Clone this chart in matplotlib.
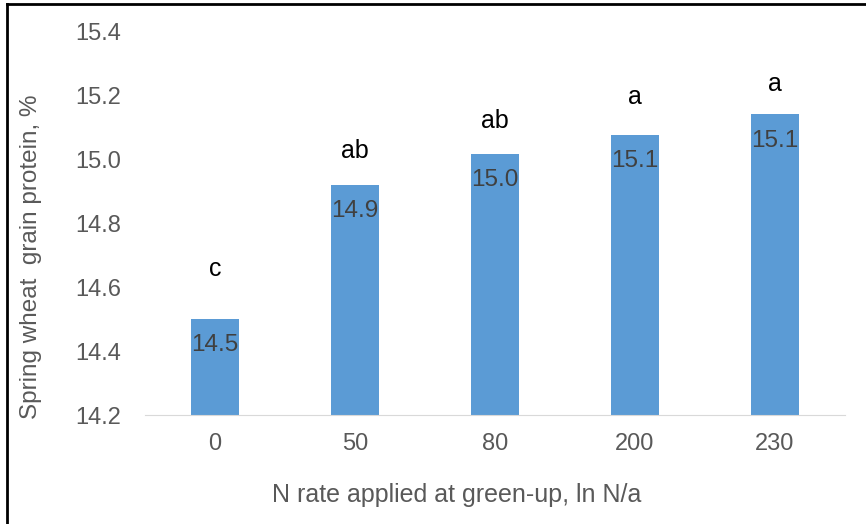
import matplotlib.pyplot as plt
from matplotlib.lines import Line2D

plt.rcParams['font.family'] = ['Liberation Sans', 'DejaVu Sans']

categories = ['0', '50', '80', '200', '230']
protein = [14.50, 14.92, 15.016, 15.075, 15.14]
value_labels = ['14.5', '14.9', '15.0', '15.1', '15.1']
letters = ['c', 'ab', 'ab', 'a', 'a']
letter_y = [14.656, 15.025, 15.119, 15.194, 15.234]

fig = plt.figure(figsize=(8.66, 5.24), dpi=100)
ax = fig.add_axes([0.1674, 0.208, 0.8083, 0.7328])

x = range(len(categories))
bars = ax.bar(x, protein, width=0.34, color='#5B9BD5', bottom=0)
ax.set_ylim(14.2, 15.4)
ax.set_xlim(-0.5, len(categories) - 0.5)
ax.set_yticks([14.2, 14.4, 14.6, 14.8, 15.0, 15.2, 15.4])
ax.set_yticklabels(['14.2', '14.4', '14.6', '14.8', '15.0', '15.2', '15.4'])
ax.set_xticks(list(x))
ax.set_xticklabels(categories)

for s in ['top', 'right', 'left']:
    ax.spines[s].set_visible(False)
ax.spines['bottom'].set_color('#D9D9D9')
ax.tick_params(axis='both', length=0, labelsize=17, colors='#595959')
ax.tick_params(axis='x', pad=13)
ax.tick_params(axis='y', pad=17)

for i, b in enumerate(bars):
    ax.annotate(value_labels[i], (b.get_x() + b.get_width() / 2, protein[i]),
                xytext=(0, -19), textcoords='offset points',
                ha='center', va='center', fontsize=17.5, color='#404040')
    ax.text(i, letter_y[i], letters[i], ha='center', va='center',
            fontsize=18, color='black')

ax.set_xlabel('N rate applied at green-up, ln N/a', fontsize=18,
              color='#595959', va='center')
ax.xaxis.set_label_coords(0.446, -0.208)
fig.text(0.036, 0.51, 'Spring wheat  grain protein, %', rotation=90,
         ha='center', va='center', fontsize=17.5, color='#595959')

# frame lines at top and left edge
fig.add_artist(Line2D([7 / 866, 7 / 866], [0, 1 - 4 / 524], color='black', lw=2))
fig.add_artist(Line2D([7 / 866, 1], [1 - 4 / 524, 1 - 4 / 524], color='black', lw=2))

fig.savefig('out.png', dpi=100)
